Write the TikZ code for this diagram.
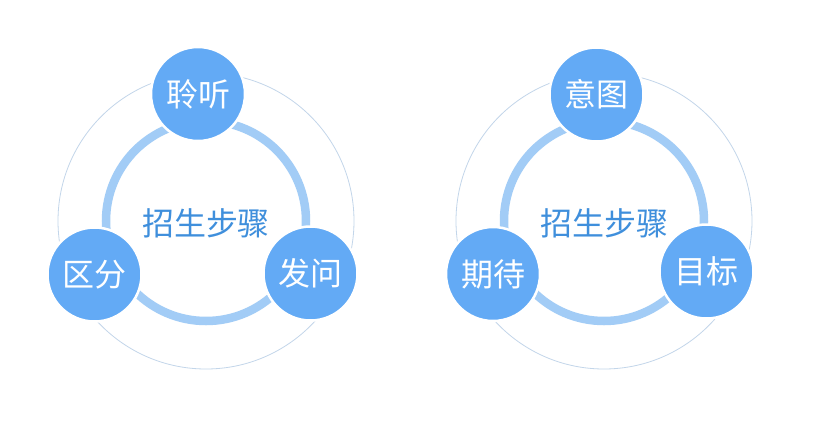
\documentclass[tikz,border=0pt]{standalone}
\usepackage{fontspec}
\newfontfamily\cjk{Noto Sans CJK SC}
\definecolor{bubble}{HTML}{63AAF5}
\definecolor{ringc}{HTML}{A2CCF6}
\definecolor{titlec}{HTML}{3F8FDC}
\definecolor{outerc}{HTML}{C3D6EA}
\tikzset{
  bubblenode/.style={circle,fill=bubble,draw=white,line width=2.5pt,minimum size=94pt,inner sep=0pt,text=white,font=\cjk\fontsize{32pt}{32pt}\selectfont},
  titlenode/.style={text=titlec,font=\cjk\fontsize{32pt}{32pt}\selectfont,inner sep=0pt},
  outerline/.style={draw=outerc,line width=0.8pt},
  ringline/.style={draw=ringc,line width=8.5pt}
}
\begin{document}
\begin{tikzpicture}[x=1pt,y=-1pt]
\useasboundingbox[fill=white] (0,0) rectangle (815,432);
% left diagram
\coordinate (lc) at (206,221);
\draw[outerline] (lc) circle[radius=148];
\draw[ringline] (lc) circle[radius=100];
\node[titlenode] (lt) at (206,223) {招生步骤};
\node[bubblenode] (l1) at (198,94) {聆听};
\node[bubblenode] (l2) at (94.5,274.5) {区分};
\node[bubblenode] (l3) at (310.5,273.5) {发问};
% right diagram
\coordinate (rc) at (604,221);
\draw[outerline] (rc) circle[radius=148];
\draw[ringline] (rc) circle[radius=100];
\node[titlenode] (rt) at (604,223) {招生步骤};
\node[bubblenode] (r1) at (596.5,94.5) {意图};
\node[bubblenode] (r2) at (493,274) {期待};
\node[bubblenode] (r3) at (706.5,271.5) {目标};
\end{tikzpicture}
\end{document}
